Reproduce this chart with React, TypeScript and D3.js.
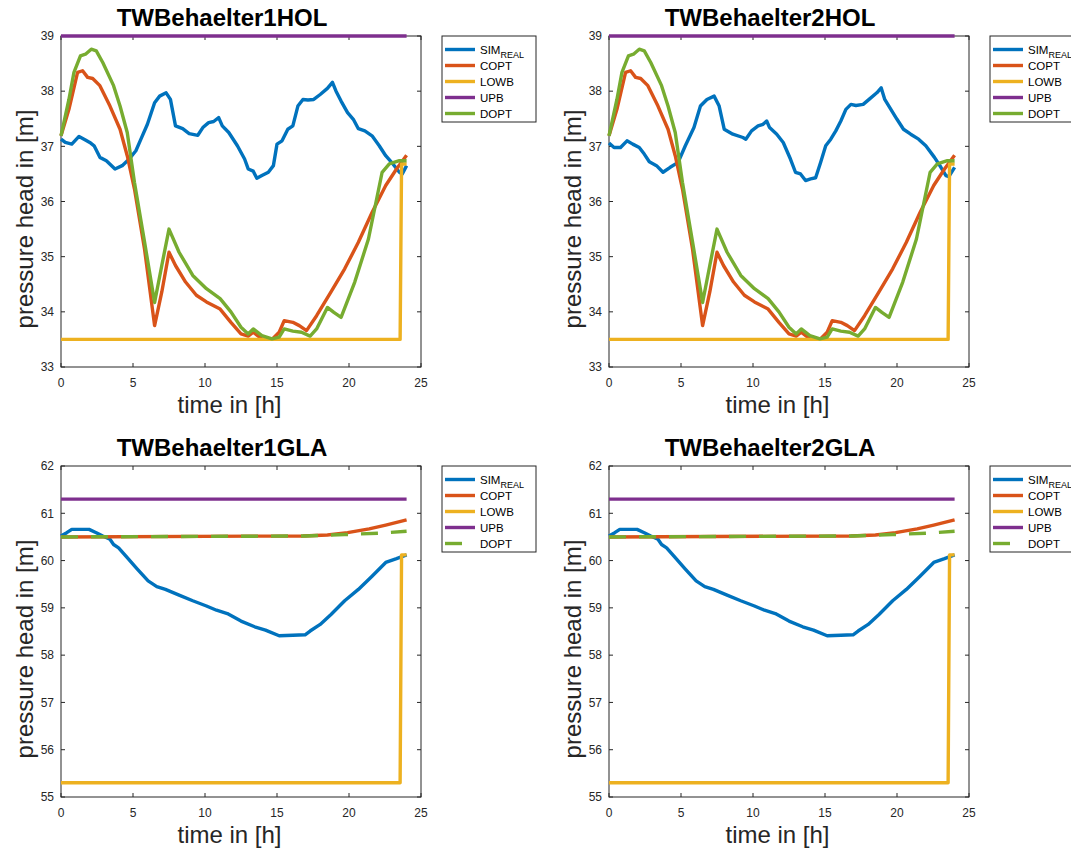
import * as React from "react";
import * as d3 from "d3";

// tick labels
const xTicks = [0, 5, 10, 15, 20, 25];
const holTicks = [33, 34, 35, 36, 37, 38, 39];
const glaTicks = [55, 56, 57, 58, 59, 60, 61, 62];

const seriesNames = ["SIM", "COPT", "LOWB", "UPB", "DOPT"];
const seriesColors = ["#0072BD", "#D95319", "#EDB120", "#7E2F8E", "#77AC30"];

// TWBehaelter1HOL - simulated
const hol1SimT = [0, 0.3, 0.75, 1.25, 1.6, 2.0, 2.3, 2.7, 3.15, 3.75, 4.25, 4.7, 5.2, 5.55, 6.0, 6.5, 6.85, 7.3, 7.6, 7.95, 8.45, 8.9, 9.5, 9.85, 10.25, 10.6, 10.95, 11.2, 11.65, 12.25, 12.75, 13.0, 13.35, 13.6, 13.95, 14.4, 14.75, 15.0, 15.35, 15.75, 16.1, 16.45, 16.8, 17.15, 17.55, 18.0, 18.5, 18.85, 19.1, 19.45, 19.9, 20.3, 20.65, 21.1, 21.6, 22.1, 22.55, 23.05, 23.5, 23.7, 24];
const hol1SimV = [37.13, 37.07, 37.04, 37.18, 37.13, 37.07, 37.01, 36.8, 36.74, 36.59, 36.65, 36.76, 36.92, 37.13, 37.4, 37.79, 37.91, 37.97, 37.85, 37.37, 37.32, 37.23, 37.2, 37.34, 37.43, 37.45, 37.52, 37.37, 37.25, 37.01, 36.77, 36.59, 36.55, 36.42, 36.47, 36.53, 36.65, 37.04, 37.1, 37.31, 37.37, 37.73, 37.85, 37.84, 37.85, 37.94, 38.05, 38.16, 38.0, 37.82, 37.61, 37.49, 37.32, 37.28, 37.19, 37.01, 36.83, 36.68, 36.53, 36.5, 36.65];

// TWBehaelter2HOL - simulated
const hol2SimT = [0, 0.35, 0.8, 1.25, 1.65, 2.1, 2.45, 2.8, 3.3, 3.75, 4.25, 4.8, 5.3, 5.9, 6.35, 6.8, 7.3, 7.65, 8.0, 8.6, 9.3, 9.5, 9.9, 10.35, 10.7, 10.95, 11.15, 11.65, 12.1, 12.6, 12.95, 13.3, 13.65, 14.0, 14.35, 14.7, 15.05, 15.4, 15.75, 16.1, 16.45, 16.8, 17.15, 17.65, 18.1, 18.6, 18.9, 19.15, 19.5, 20.0, 20.45, 20.95, 21.5, 22.0, 22.6, 23.05, 23.4, 23.6, 24];
const hol2SimV = [37.06, 36.98, 36.98, 37.1, 37.04, 36.98, 36.86, 36.72, 36.65, 36.53, 36.62, 36.71, 37.01, 37.34, 37.73, 37.85, 37.91, 37.73, 37.31, 37.22, 37.16, 37.13, 37.28, 37.37, 37.4, 37.46, 37.34, 37.22, 37.07, 36.77, 36.53, 36.5, 36.38, 36.41, 36.43, 36.71, 37.01, 37.13, 37.28, 37.46, 37.67, 37.76, 37.74, 37.76, 37.86, 37.97, 38.06, 37.85, 37.7, 37.49, 37.31, 37.22, 37.13, 37.01, 36.8, 36.62, 36.47, 36.45, 36.62];

// HOL optimisation results
const holCoptT = [0, 0.55, 1.15, 1.5, 1.85, 2.2, 2.7, 3.4, 4.1, 4.6, 5.1, 5.8, 6.5, 7.0, 7.5, 7.95, 8.65, 9.4, 10.1, 11.05, 11.8, 12.5, 13.0, 13.35, 13.95, 14.65, 15.15, 15.5, 16.1, 16.55, 17.05, 17.75, 18.75, 19.7, 20.65, 21.6, 22.55, 23.3, 24];
const holCoptV = [37.19, 37.67, 38.34, 38.37, 38.25, 38.23, 38.1, 37.73, 37.31, 36.83, 36.23, 35.14, 33.75, 34.36, 35.08, 34.84, 34.54, 34.3, 34.18, 34.05, 33.81, 33.6, 33.56, 33.63, 33.51, 33.5, 33.63, 33.84, 33.81, 33.75, 33.66, 33.93, 34.36, 34.78, 35.26, 35.8, 36.29, 36.59, 36.84];
const holDoptT = [0, 0.55, 0.9, 1.35, 1.7, 2.1, 2.45, 2.9, 3.65, 4.1, 4.6, 5.1, 5.8, 6.5, 7.0, 7.5, 8.2, 9.15, 10.1, 11.05, 11.8, 12.5, 13.0, 13.35, 13.95, 14.65, 15.15, 15.5, 16.1, 16.7, 17.3, 17.75, 18.5, 18.95, 19.45, 20.4, 21.35, 22.3, 22.8, 23.5, 24];
const holDoptV = [37.19, 37.85, 38.34, 38.64, 38.67, 38.76, 38.73, 38.52, 38.1, 37.73, 37.25, 36.35, 35.27, 34.17, 34.84, 35.5, 35.08, 34.66, 34.42, 34.24, 34.0, 33.72, 33.6, 33.69, 33.57, 33.51, 33.54, 33.69, 33.65, 33.63, 33.56, 33.69, 34.08, 33.99, 33.9, 34.54, 35.32, 36.53, 36.68, 36.74, 36.74];
const holBoundT = [0, 23.55, 23.65, 24];
const holLowV = [33.5, 33.5, 36.68, 36.68];
const upbT = [0, 24];
const holUpV = [39, 39];

// GLA
const glaSimT = [0, 0.4, 0.75, 1.95, 2.45, 2.9, 3.4, 3.65, 4.0, 4.6, 5.3, 6.05, 6.65, 7.25, 8.2, 9.15, 10.1, 10.8, 11.55, 12.5, 13.45, 14.2, 15.15, 16.1, 16.95, 17.3, 18.0, 18.75, 19.7, 20.65, 21.6, 22.55, 23.3, 24];
const glaSimV = [60.52, 60.59, 60.66, 60.66, 60.59, 60.52, 60.45, 60.34, 60.27, 60.06, 59.82, 59.57, 59.45, 59.39, 59.27, 59.15, 59.04, 58.95, 58.88, 58.72, 58.6, 58.53, 58.41, 58.42, 58.43, 58.51, 58.65, 58.86, 59.15, 59.39, 59.67, 59.96, 60.04, 60.12];
const glaCoptT = [0, 16.8, 18.5, 19.9, 21.4, 22.55, 24];
const glaCoptV = [60.5, 60.52, 60.54, 60.59, 60.67, 60.75, 60.86];
const glaDoptT = [0, 17, 19.7, 22.1, 24];
const glaDoptV = [60.5, 60.52, 60.55, 60.58, 60.62];
const glaLowV = [55.3, 55.3, 60.12, 60.12];
const glaUpV = [61.3, 61.3];

const W = 360, H = 331;
const font = "'Liberation Sans', Arial, Helvetica, sans-serif";
const ink = "#262626";

type Series = { t: number[]; v: number[]; dash?: boolean };

const zip = (t: number[], v: number[]) =>
  t.slice(0, Math.min(t.length, v.length)).map((d, i) => [d, v[i]] as [number, number]);

const panels = [
  {
    title: "TWBehaelter1HOL", left: 61, top: 36, yDomain: [33, 39], yTicks: holTicks, dashedOpt: false,
    series: [
      {t: hol1SimT, v: hol1SimV}, {t: holCoptT, v: holCoptV}, {t: holBoundT, v: holLowV},
      {t: upbT, v: holUpV}, {t: holDoptT, v: holDoptV}
    ]
  },
  {
    title: "TWBehaelter2HOL", left: 609, top: 36, yDomain: [33, 39], yTicks: holTicks, dashedOpt: false,
    series: [
      {t: hol2SimT, v: hol2SimV}, {t: holCoptT, v: holCoptV}, {t: holBoundT, v: holLowV},
      {t: upbT, v: holUpV}, {t: holDoptT, v: holDoptV}
    ]
  },
  {
    title: "TWBehaelter1GLA", left: 61, top: 466, yDomain: [55, 62], yTicks: glaTicks, dashedOpt: true,
    series: [
      {t: glaSimT, v: glaSimV}, {t: glaCoptT, v: glaCoptV}, {t: holBoundT, v: glaLowV},
      {t: upbT, v: glaUpV}, {t: glaDoptT, v: glaDoptV, dash: true}
    ]
  },
  {
    title: "TWBehaelter2GLA", left: 609, top: 466, yDomain: [55, 62], yTicks: glaTicks, dashedOpt: true,
    series: [
      {t: glaSimT, v: glaSimV}, {t: glaCoptT, v: glaCoptV}, {t: holBoundT, v: glaLowV},
      {t: upbT, v: glaUpV}, {t: glaDoptT, v: glaDoptV, dash: true}
    ]
  }
];

const DASH = "17 13";

function Panel({p}: {p: any}) {
  const x = d3.scaleLinear().domain([0, 25]).range([p.left, p.left + W]);
  const y = d3.scaleLinear().domain(p.yDomain).range([p.top + H, p.top]);
  const line = d3.line<[number, number]>().x(d => x(d[0])).y(d => y(d[1]));
  const bottom = p.top + H, right = p.left + W;
  const lx = right + 21;

  return (
    <g>
      {/* frame + ticks */}
      <rect x={p.left} y={p.top} width={W} height={H} fill="white" stroke={ink} strokeWidth={1}/>
      {xTicks.map(t => (
        <g key={"x" + t}>
          <line x1={x(t)} x2={x(t)} y1={bottom} y2={bottom - 4} stroke={ink}/>
          <line x1={x(t)} x2={x(t)} y1={p.top} y2={p.top + 4} stroke={ink}/>
          <text x={x(t)} y={bottom + 19.5} textAnchor="middle" fontSize={12} fill={ink}>{t}</text>
        </g>
      ))}
      {p.yTicks.map((t: number) => (
        <g key={"y" + t}>
          <line x1={p.left} x2={p.left + 4} y1={y(t)} y2={y(t)} stroke={ink}/>
          <line x1={right} x2={right - 4} y1={y(t)} y2={y(t)} stroke={ink}/>
          <text x={p.left - 7} y={y(t)} dy="0.36em" textAnchor="end" fontSize={12} fill={ink}>{t}</text>
        </g>
      ))}

      {/* data */}
      {p.series.map((s: Series, i: number) => (
        <path key={i} d={line(zip(s.t, s.v)) || ""} fill="none" stroke={seriesColors[i]}
              strokeWidth={3.4} strokeLinejoin="round" strokeDasharray={s.dash ? DASH : undefined}/>
      ))}

      {/* labels */}
      <text x={p.left + 161} y={p.top - 10} textAnchor="middle" fontSize={24} fontWeight="bold" fill="#000">{p.title}</text>
      <text x={p.left + 168.5} y={bottom + 46} textAnchor="middle" fontSize={24} fill={ink}>time in [h]</text>
      <text transform={`translate(${p.left - 28},${p.top + 183}) rotate(-90)`} textAnchor="middle" fontSize={24} fill={ink}>
        pressure head in [m]
      </text>

      {/* legend */}
      <rect x={lx} y={p.top} width={94} height={86} fill="white" stroke={ink} strokeWidth={1}/>
      {seriesNames.map((name, i) => {
        const ry = p.top + 13.5 + i * 16;
        return (
          <g key={name}>
            <line x1={lx + 3} x2={lx + 33} y1={ry} y2={ry} stroke={seriesColors[i]} strokeWidth={3.4}
                  strokeDasharray={p.dashedOpt && i === 4 ? DASH : undefined}/>
            <text x={lx + 38} y={ry} dy="0.36em" fontSize={11.5} fill="#000">
              {name}
              {i === 0 && <tspan fontSize={9} dy="4">REAL</tspan>}
            </text>
          </g>
        );
      })}
    </g>
  );
}

export default function App() {
  return (
    <svg width={1071} height={852} style={{position: "absolute", left: 0, top: 0, background: "white"}}
         fontFamily={font}>
      {panels.map(p => <Panel key={p.title} p={p}/>)}
    </svg>
  );
}
